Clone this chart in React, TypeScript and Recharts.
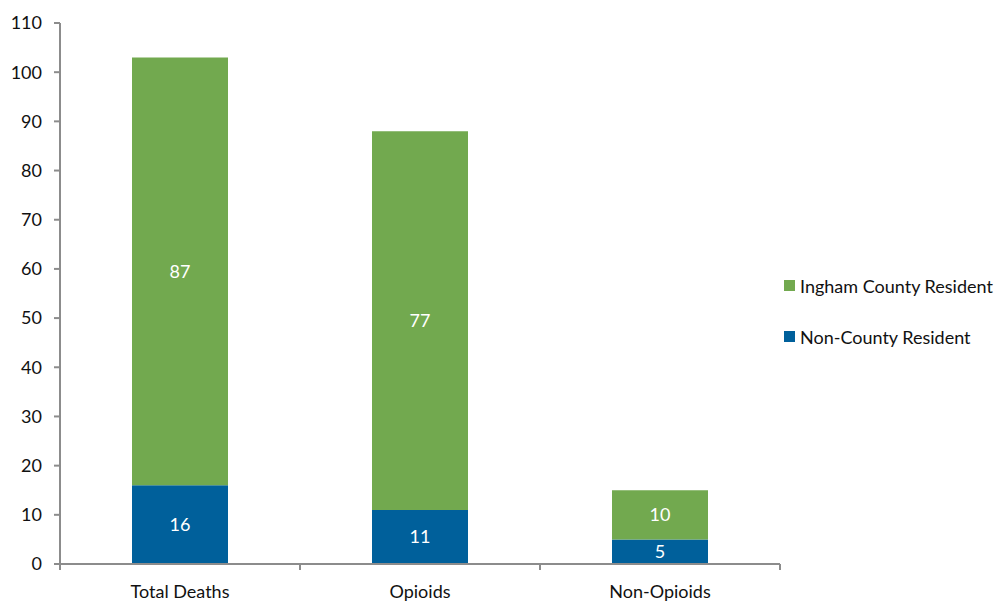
import { Bar, BarChart, LabelList, XAxis, YAxis } from "recharts";

const categories = ["Total Deaths", "Opioids", "Non-Opioids"];
const nonCounty = [16, 11, 5];
const ingham = [87, 77, 10];
const yTicks = [0, 10, 20, 30, 40, 50, 60, 70, 80, 90, 100, 110];

const data = categories.map((name, i) => ({
  name,
  nonCounty: nonCounty[i],
  ingham: ingham[i],
}));

const FONT = "Lato, 'Open Sans', sans-serif";
const AXIS = "#8c8c8c";
const GREEN = "#72a94f";
const BLUE = "#00609b";

function CategoryTick(props: any) {
  const { x, y, payload, index } = props;
  const half = 120;
  return (
    <g>
      <line x1={x - half} y1={y - 8} x2={x - half} y2={y - 2} stroke={AXIS} strokeWidth={2} />
      {index === categories.length - 1 && (
        <line x1={x + half} y1={y - 8} x2={x + half} y2={y - 2} stroke={AXIS} strokeWidth={2} />
      )}
      <text x={x} y={y + 26} textAnchor="middle" fontSize={18} fill="#111" fontFamily={FONT}>
        {payload.value}
      </text>
    </g>
  );
}

const legendItems = [
  { label: "Ingham County Resident", color: GREEN },
  { label: "Non-County Resident", color: BLUE },
];

export default function App() {
  return (
    <div style={{ position: "absolute", left: 0, top: 0, width: 1006, height: 604, background: "#fff" }}>
      <BarChart
        width={1006}
        height={604}
        data={data}
        margin={{ top: 23, right: 226, left: 0, bottom: 0 }}
        barCategoryGap={72}
      >
        <XAxis
          dataKey="name"
          height={40}
          axisLine={{ stroke: AXIS, strokeWidth: 2 }}
          tickLine={false}
          tick={<CategoryTick />}
          interval={0}
        />
        <YAxis
          width={60}
          domain={[0, 110]}
          ticks={yTicks}
          interval={0}
          axisLine={{ stroke: AXIS, strokeWidth: 2 }}
          tickLine={{ stroke: AXIS, strokeWidth: 2 }}
          tickSize={6}
          tickMargin={12}
          tick={{ fontSize: 18, fill: "#111", fontFamily: FONT }}
        />
        <Bar dataKey="nonCounty" stackId="a" fill={BLUE} name="Non-County Resident" isAnimationActive={false}>
          <LabelList dataKey="nonCounty" position="center" fill="#fff" fontSize={18} fontFamily={FONT} />
        </Bar>
        <Bar dataKey="ingham" stackId="a" fill={GREEN} name="Ingham County Resident" isAnimationActive={false}>
          <LabelList dataKey="ingham" position="center" fill="#fff" fontSize={18} fontFamily={FONT} />
        </Bar>
      </BarChart>
      <div style={{ position: "absolute", left: 784, top: 260, fontFamily: FONT, fontSize: 18, color: "#111" }}>
        {legendItems.map((it) => (
          <div key={it.label} style={{ display: "flex", alignItems: "center", height: 51 }}>
            <span style={{ width: 11, height: 11, background: it.color, marginRight: 5, display: "inline-block" }} />
            {it.label}
          </div>
        ))}
      </div>
    </div>
  );
}
